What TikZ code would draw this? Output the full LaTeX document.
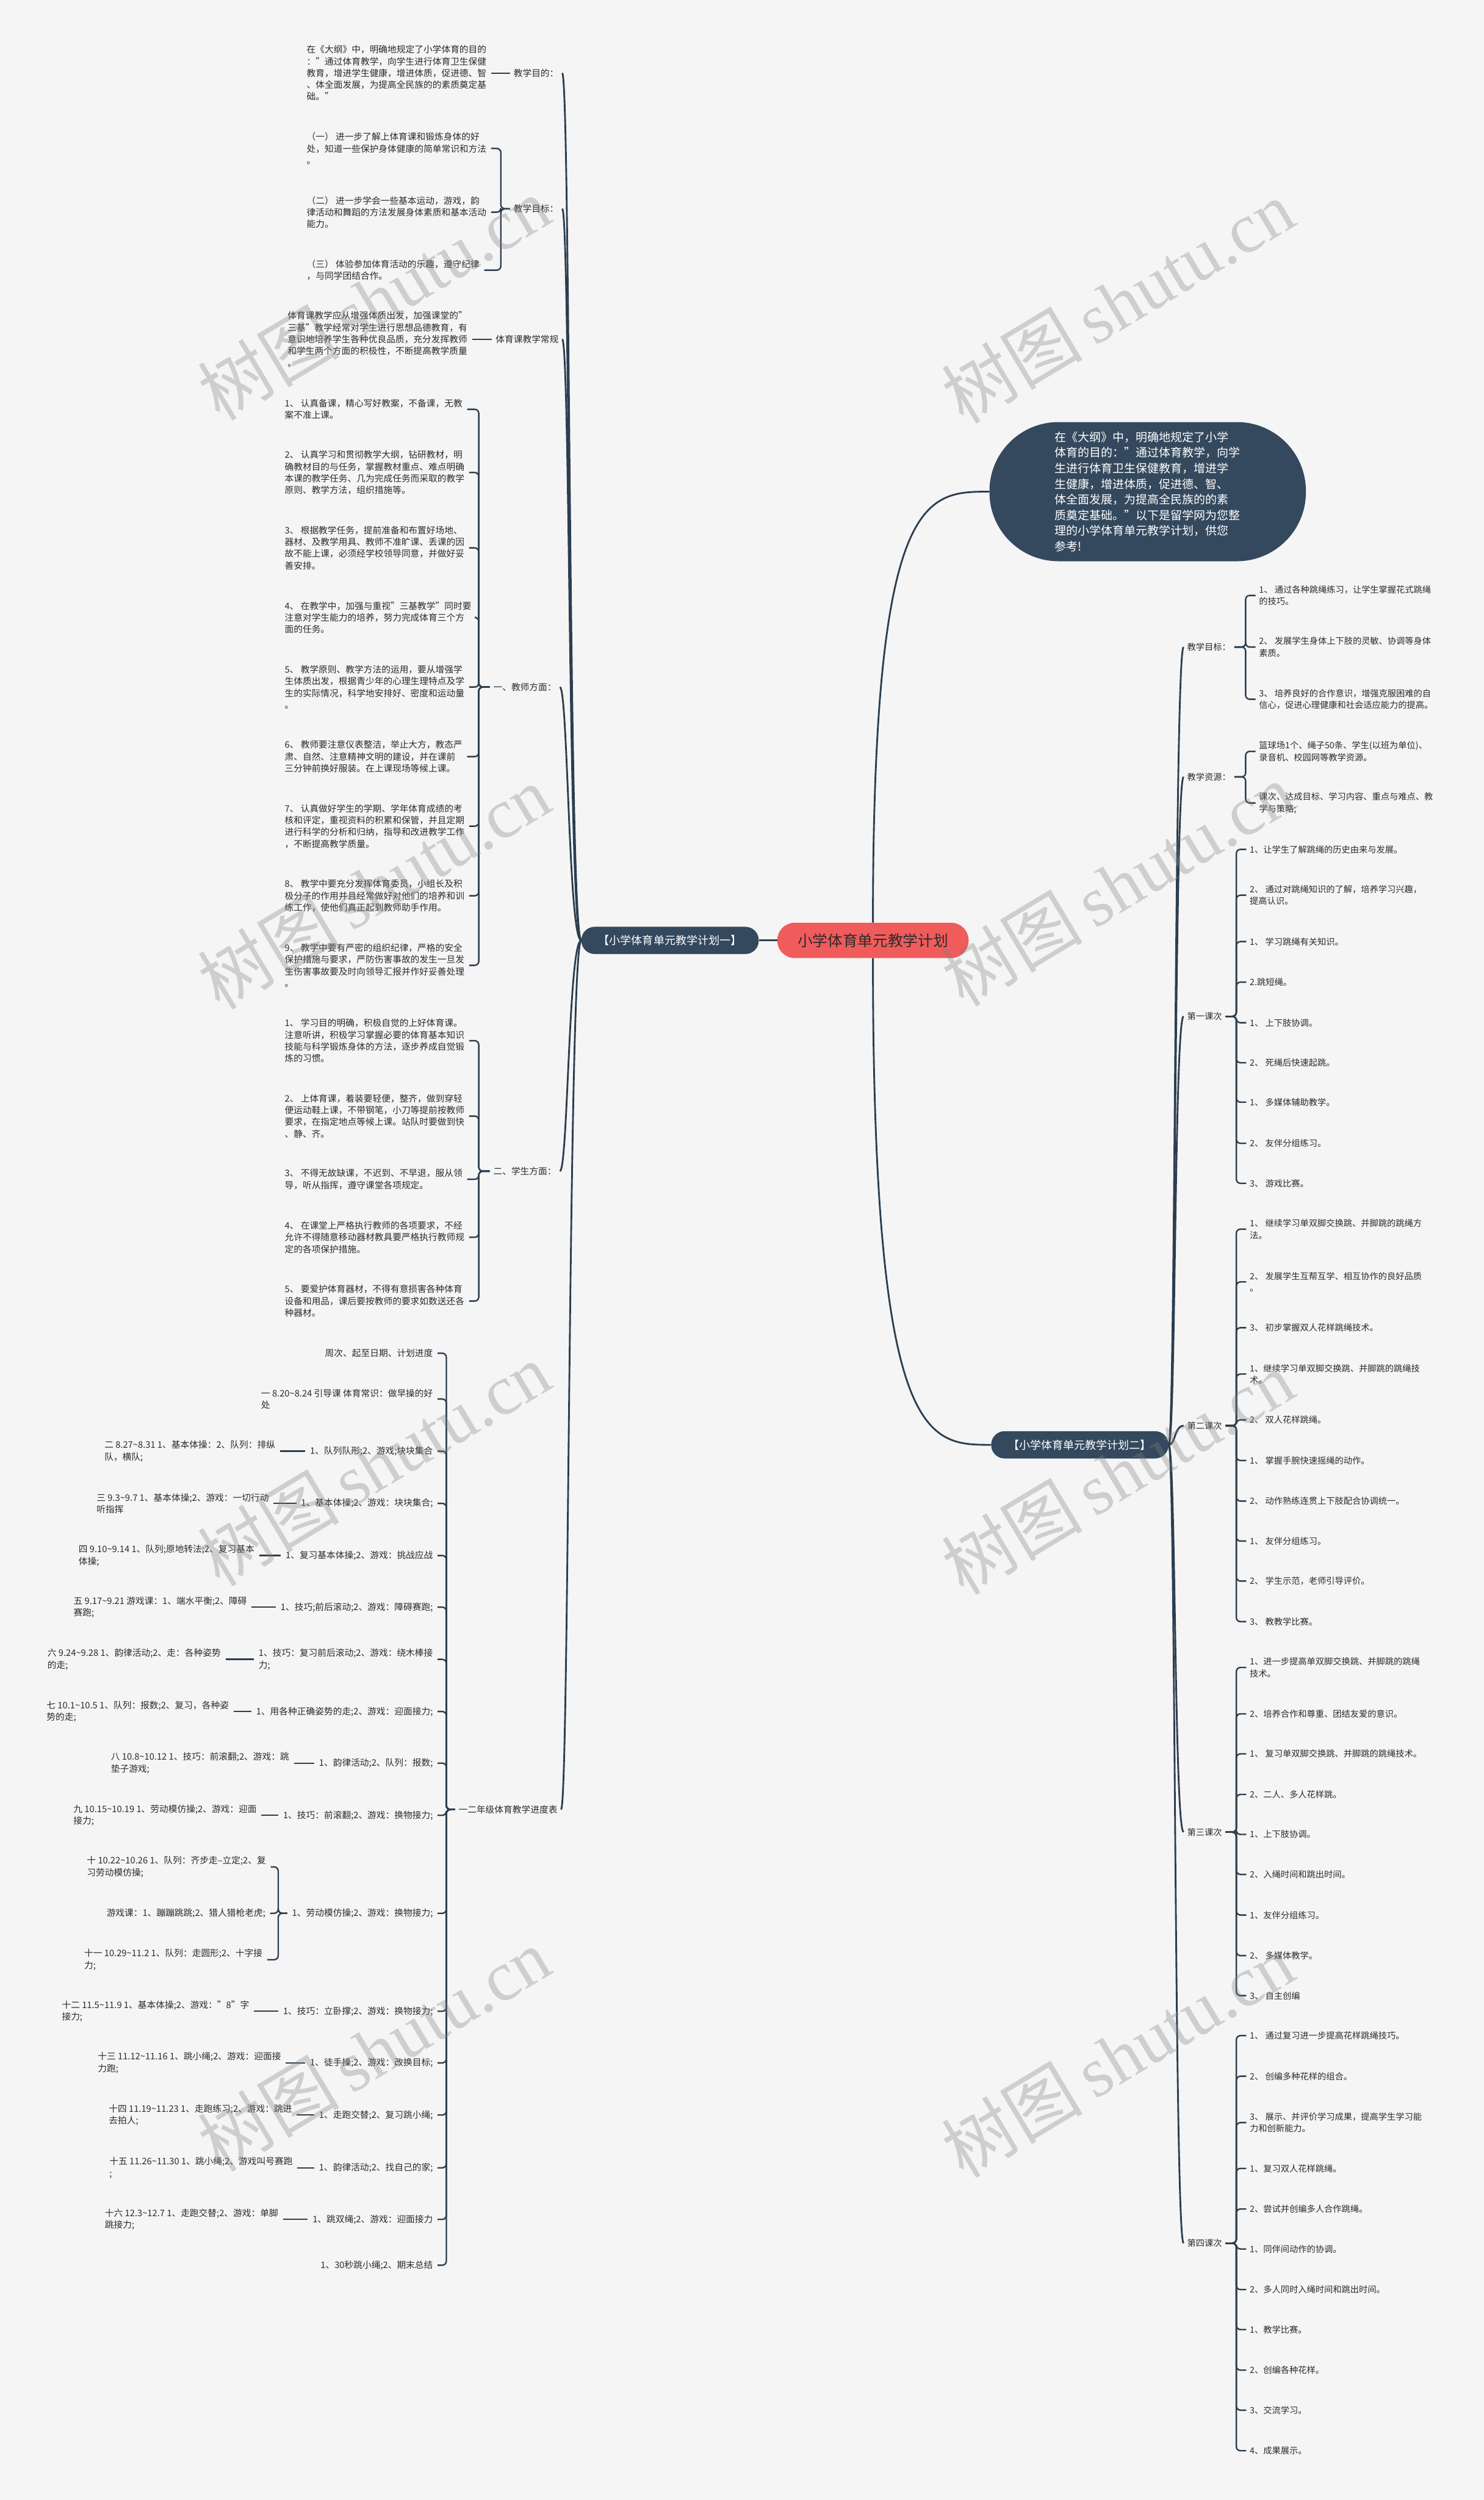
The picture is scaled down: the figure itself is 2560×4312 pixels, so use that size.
\documentclass[tikz,border=0pt]{standalone}
\usepackage{fontspec}
\setmainfont{Noto Sans CJK SC}
\newfontfamily\wmfont{Liberation Serif}
\definecolor{bg}{HTML}{F5F5F5}
\definecolor{ln}{HTML}{2C3E50}
\definecolor{dk}{HTML}{34495E}
\definecolor{rd}{HTML}{F05B5B}
\definecolor{tx}{HTML}{2B2B2B}
\newcommand\tld{\textasciitilde}
\newcommand\lfs{\fontsize{15.5}{20.3}\selectfont}
\newcommand\rfs{\fontsize{15}{20.5}\selectfont}
\begin{document}
\begin{tikzpicture}[x=1pt,y=-1pt,
  lt/.style={font=\lfs,text=tx,align=left,inner xsep=8,inner ysep=2,anchor=west},
  ltr/.style={lt,anchor=east},
  lab/.style={font=\lfs,text=tx,inner xsep=6,inner ysep=2,anchor=west},
  rt/.style={font=\rfs,text=tx,align=left,inner xsep=6,inner ysep=2,anchor=west},
  rlab/.style={font=\rfs,text=tx,inner xsep=6,inner ysep=2,anchor=west},
  sp/.style={draw=ln,line width=3},
  br/.style={draw=ln,line width=2.5,rounded corners=7},
  pl/.style={fill=dk,text=white,font=\fontsize{19}{22}\selectfont,rounded corners=23,minimum width=306,minimum height=47,inner sep=0},
  wmk/.style={text=gray,text opacity=0.33,rotate=31,inner sep=0}
]
\fill[bg] (0,0) rectangle (2560,4312);
\useasboundingbox (0,0) rectangle (2560,4312);

% ---------- central ----------
\node[fill=rd,text=tx,font=\fontsize{26}{30}\selectfont,rounded corners=30,minimum width=330,minimum height=61,inner sep=0] (root) at (1506,1622) {小学体育单元教学计划};
\node[pl] (p1) at (1156,1622) {【小学体育单元教学计划一】};
\node[pl] (p2) at (1863,2492) {【小学体育单元教学计划二】};
\node[fill=dk,text=white,font=\fontsize{20}{26.9}\selectfont,align=left,rounded corners=119,minimum width=546,minimum height=240,inner sep=0] (sum) at (1980,848) {在《大纲》中，明确地规定了小学\\体育的目的："通过体育教学，向学\\生进行体育卫生保健教育，增进学\\生健康，增进体质，促进德、智、\\体全面发展，为提高全民族的的素\\质奠定基础。"以下是留学网为您整\\理的小学体育单元教学计划，供您\\参考!};

\draw[sp] (root.west) -- (p1.east);
\draw[sp] (root.north) .. controls (root.north |- sum.west) and +(-110,0) .. (sum.west);
\draw[sp] (root.south) .. controls (root.south |- p2.west) and +(-110,0) .. (p2.west);

% ---------- left labels ----------
\node[lab] (L1) at (880,126) {教学目的：};
\node[lab] (L2) at (880,360) {教学目标：};
\node[lab] (L3) at (849,585) {体育课教学常规};
\node[lab] (L4) at (845,1185) {一、教师方面：};
\node[lab] (L5) at (845,2020) {二、学生方面：};
\node[lab] (L6) at (785,3121) {一二年级体育教学进度表};
\foreach \n in {L1,L2,L3,L4,L5,L6}
  \draw[sp] (p1.west) .. controls +(-22,0) and +(14,0) .. (\n.east);

\coordinate (b2) at (864,0);
\coordinate (b4) at (826,0);
\coordinate (b6) at (770,0);
\coordinate (b11) at (480,0);

% 教学目的
\node[lt] (C1) at (521,126) {在《大纲》中，明确地规定了小学体育的目的\\："通过体育教学，向学生进行体育卫生保健\\教育，增进学生健康，增进体质，促进德、智\\、体全面发展，为提高全民族的的素质奠定基\\础。"};
\draw[br] (C1.east) -- (L1.west);

% 教学目标
\node[lt] (C2a) at (521,256) {（一） 进一步了解上体育课和锻炼身体的好\\处，知道一些保护身体健康的简单常识和方法\\。};
\node[lt] (C2b) at (521,366) {（二） 进一步学会一些基本运动，游戏，韵\\律活动和舞蹈的方法发展身体素质和基本活动\\能力。};
\node[lt] (C2c) at (521,466) {（三） 体验参加体育活动的乐趣，遵守纪律\\，与同学团结合作。};
\foreach \c in {C2a,C2b,C2c}
  \draw[br] (L2.west) -- (L2.west -| b2) |- (\c.east);

% 常规
\node[lt] (C3) at (488,585) {体育课教学应从增强体质出发，加强课堂的"\\三基"教学经常对学生进行思想品德教育，有\\意识地培养学生各种优良品质，充分发挥教师\\和学生两个方面的积极性，不断提高教学质量\\。};
\draw[br] (C3.east) -- (L3.west);

% 教师方面
\node[lt] (T1) at (483,706) {1、 认真备课，精心写好教案，不备课，无教\\案不准上课。};
\node[lt] (T2) at (483,815) {2、 认真学习和贯彻教学大纲，钻研教材，明\\确教材目的与任务，掌握教材重点、难点明确\\本课的教学任务、几为完成任务而采取的教学\\原则、教学方法，组织措施等。};
\node[lt] (T3) at (483,945) {3、 根据教学任务，提前准备和布置好场地、\\器材、及教学用具、教师不准旷课、丢课的因\\故不能上课，必须经学校领导同意，并做好妥\\善安排。};
\node[lt] (T4) at (483,1065) {4、 在教学中，加强与重视"三基教学"同时要\\注意对学生能力的培养，努力完成体育三个方\\面的任务。};
\node[lt] (T5) at (483,1185) {5、 教学原则、教学方法的运用，要从增强学\\生体质出发，根据青少年的心理生理特点及学\\生的实际情况，科学地安排好、密度和运动量\\。};
\node[lt] (T6) at (483,1305) {6、 教师要注意仪表整洁，举止大方，教态严\\肃、自然、注意精神文明的建设，并在课前\\三分钟前换好服装。在上课现场等候上课。};
\node[lt] (T7) at (483,1425) {7、 认真做好学生的学期、学年体育成绩的考\\核和评定，重视资料的积累和保管，并且定期\\进行科学的分析和归纳，指导和改进教学工作\\，不断提高教学质量。};
\node[lt] (T8) at (483,1545) {8、 教学中要充分发挥体育委员，小组长及积\\极分子的作用并且经常做好对他们的培养和训\\练工作，使他们真正起到教师助手作用。};
\node[lt] (T9) at (483,1665) {9、 教学中要有严密的组织纪律，严格的安全\\保护措施与要求，严防伤害事故的发生一旦发\\生伤害事故要及时向领导汇报并作好妥善处理\\。};
\foreach \c in {T1,T2,T3,T4,T5,T6,T7,T8,T9}
  \draw[br] (L4.west) -- (L4.west -| b4) |- (\c.east);

% 学生方面
\node[lt] (S1) at (483,1795) {1、 学习目的明确，积极自觉的上好体育课。\\注意听讲，积极学习掌握必要的体育基本知识\\技能与科学锻炼身体的方法，逐步养成自觉锻\\炼的习惯。};
\node[lt] (S2) at (483,1925) {2、 上体育课，着装要轻便，整齐，做到穿轻\\便运动鞋上课，不带钢笔，小刀等提前按教师\\要求，在指定地点等候上课。站队时要做到快\\、静、齐。};
\node[lt] (S3) at (483,2034) {3、 不得无故缺课，不迟到、不早退，服从领\\导，听从指挥，遵守课堂各项规定。};
\node[lt] (S4) at (483,2134) {4、 在课堂上严格执行教师的各项要求，不经\\允许不得随意移动器材教具要严格执行教师规\\定的各项保护措施。};
\node[lt] (S5) at (483,2244) {5、 要爱护体育器材，不得有意损害各种体育\\设备和用品，课后要按教师的要求如数送还各\\种器材。};
\foreach \c in {S1,S2,S3,S4,S5}
  \draw[br] (L5.west) -- (L5.west -| b4) |- (\c.east);

% 进度表
\node[ltr] (P1) at (755,2334) {周次、起至日期、计划进度};
\node[ltr] (P2) at (755,2413) {一 8.20\tld{}8.24 引导课 体育常识：做早操的好\\处};
\node[ltr] (P3) at (755,2503) {1、队列队形;2、游戏;块块集合};
\node[ltr] (P4) at (755,2593) {1、基本体操;2、游戏：块块集合;};
\node[ltr] (P5) at (755,2683) {1、复习基本体操;2、游戏：挑战应战};
\node[ltr] (P6) at (755,2772) {1、技巧;前后滚动;2、游戏：障碍赛跑;};
\node[ltr] (P7) at (755,2862) {1、技巧：复习前后滚动;2、游戏：绕木棒接\\力;};
\node[ltr] (P8) at (755,2952) {1、用各种正确姿势的走;2、游戏：迎面接力;};
\node[ltr] (P9) at (755,3041) {1、韵律活动;2、队列：报数;};
\node[ltr] (P10) at (755,3131) {1、技巧：前滚翻;2、游戏：换物接力;};
\node[ltr] (P11) at (755,3300) {1、劳动模仿操;2、游戏：换物接力;};
\node[ltr] (P12) at (755,3469) {1、技巧：立卧撑;2、游戏：换物接力;};
\node[ltr] (P13) at (755,3558) {1、徒手操;2、游戏：改换目标;};
\node[ltr] (P14) at (755,3648) {1、走跑交替;2、复习跳小绳;};
\node[ltr] (P15) at (755,3739) {1、韵律活动;2、找自己的家;};
\node[ltr] (P16) at (755,3828) {1、跳双绳;2、游戏：迎面接力};
\node[ltr] (P17) at (755,3907) {1、30秒跳小绳;2、期末总结};
\foreach \i in {1,...,17}
  \draw[br] (L6.west) -- (L6.west -| b6) |- (P\i.east);

\node[ltr] (Q3) at (483,2503) {二 8.27\tld{}8.31 1、基本体操：2、队列：排纵\\队，横队;};
\node[ltr] (Q4) at (472,2593) {三 9.3\tld{}9.7 1、基本体操;2、游戏：一切行动\\听指挥};
\node[ltr] (Q5) at (447,2683) {四 9.10\tld{}9.14 1、队列;原地转法;2、复习基本\\体操;};
\node[ltr] (Q6) at (434,2772) {五 9.17\tld{}9.21 游戏课：1、端水平衡;2、障碍\\赛跑;};
\node[ltr] (Q7) at (389,2862) {六 9.24\tld{}9.28 1、韵律活动;2、走：各种姿势\\的走;};
\node[ltr] (Q8) at (403,2952) {七 10.1\tld{}10.5 1、队列：报数;2、复习，各种姿\\势的走;};
\node[ltr] (Q9) at (507,3041) {八 10.8\tld{}10.12 1、技巧：前滚翻;2、游戏：跳\\垫子游戏;};
\node[ltr] (Q10) at (451,3131) {九 10.15\tld{}10.19 1、劳动模仿操;2、游戏：迎面\\接力;};
\node[ltr] (Q11a) at (467,3220) {十 10.22\tld{}10.26 1、队列：齐步走–立定;2、复\\习劳动模仿操;};
\node[ltr] (Q11b) at (466,3300) {游戏课：1、蹦蹦跳跳;2、猎人猎枪老虎;};
\node[ltr] (Q11c) at (461,3380) {十一 10.29\tld{}11.2 1、队列：走圆形;2、十字接\\力;};
\node[ltr] (Q12) at (438,3469) {十二 11.5\tld{}11.9 1、基本体操;2、游戏："8"字\\接力;};
\node[ltr] (Q13) at (493,3558) {十三 11.12\tld{}11.16 1、跳小绳;2、游戏：迎面接\\力跑;};
\node[ltr] (Q14) at (512,3648) {十四 11.19\tld{}11.23 1、走跑练习;2、游戏：跳进\\去拍人;};
\node[ltr] (Q15) at (513,3739) {十五 11.26\tld{}11.30 1、跳小绳;2、游戏叫号赛跑\\;};
\node[ltr] (Q16) at (488,3828) {十六 12.3\tld{}12.7 1、走跑交替;2、游戏：单脚\\跳接力;};
\foreach \i in {3,4,5,6,7,8,9,10,12,13,14,15,16}
  \draw[br] (Q\i.east) -- (P\i.west);
\foreach \c in {Q11a,Q11b,Q11c}
  \draw[br] (P11.west) -- (P11.west -| b11) |- (\c.east);

% ---------- right side ----------
\node[rlab] (R1) at (2042,1116) {教学目标：};
\node[rlab] (R2) at (2042,1340) {教学资源：};
\node[rlab] (R3) at (2042,1753) {第一课次};
\node[rlab] (R4) at (2042,2459) {第二课次};
\node[rlab] (R5) at (2042,3160) {第三课次};
\node[rlab] (R6) at (2042,3869) {第四课次};
\foreach \n in {R1,R2,R3,R4,R5,R6}
  \draw[sp] (p2.east) .. controls +(12,0) and +(-16,0) .. (\n.west);

\coordinate (c1) at (2149,0);
\coordinate (c3) at (2133,0);

\node[rt] (R1a) at (2166,1027) {1、 通过各种跳绳练习，让学生掌握花式跳绳\\的技巧。};
\node[rt] (R1b) at (2166,1116) {2、 发展学生身体上下肢的灵敏、协调等身体\\素质。};
\node[rt] (R1c) at (2166,1206) {3、 培养良好的合作意识，增强克服困难的自\\信心，促进心理健康和社会适应能力的提高。};
\foreach \c in {R1a,R1b,R1c}
  \draw[br] (R1.east) -- (R1.east -| c1) |- (\c.west);

\node[rt] (R2a) at (2166,1296) {篮球场1个、绳子50条、学生(以班为单位)、\\录音机、校园网等教学资源。};
\node[rt] (R2b) at (2166,1385) {课次、达成目标、学习内容、重点与难点、教\\学与策略;};
\foreach \c in {R2a,R2b}
  \draw[br] (R2.east) -- (R2.east -| c1) |- (\c.west);

\node[rt] (R3a) at (2150,1465) {1、让学生了解跳绳的历史由来与发展。};
\node[rt] (R3b) at (2150,1544) {2、 通过对跳绳知识的了解，培养学习兴趣，\\提高认识。};
\node[rt] (R3c) at (2150,1624) {1、 学习跳绳有关知识。};
\node[rt] (R3d) at (2150,1694) {2.跳短绳。};
\node[rt] (R3e) at (2150,1764) {1、 上下肢协调。};
\node[rt] (R3f) at (2150,1833) {2、 死绳后快速起跳。};
\node[rt] (R3g) at (2150,1901) {1、 多媒体辅助教学。};
\node[rt] (R3h) at (2150,1972) {2、 友伴分组练习。};
\node[rt] (R3i) at (2150,2041) {3、 游戏比赛。};
\foreach \c in {R3a,R3b,R3c,R3d,R3e,R3f,R3g,R3h,R3i}
  \draw[br] (R3.east) -- (R3.east -| c3) |- (\c.west);

\node[rt] (R4a) at (2150,2120) {1、 继续学习单双脚交换跳、并脚跳的跳绳方\\法。};
\node[rt] (R4b) at (2150,2211) {2、 发展学生互帮互学、相互协作的良好品质\\。};
\node[rt] (R4c) at (2150,2290) {3、 初步掌握双人花样跳绳技术。};
\node[rt] (R4d) at (2150,2370) {1、继续学习单双脚交换跳、并脚跳的跳绳技\\术。};
\node[rt] (R4e) at (2150,2449) {2、 双人花样跳绳。};
\node[rt] (R4f) at (2150,2519) {1、 掌握手腕快速摇绳的动作。};
\node[rt] (R4g) at (2150,2589) {2、 动作熟练连贯上下肢配合协调统一。};
\node[rt] (R4h) at (2150,2658) {1、 友伴分组练习。};
\node[rt] (R4i) at (2150,2727) {2、 学生示范，老师引导评价。};
\node[rt] (R4j) at (2150,2797) {3、 教教学比赛。};
\foreach \c in {R4a,R4b,R4c,R4d,R4e,R4f,R4g,R4h,R4i,R4j}
  \draw[br] (R4.east) -- (R4.east -| c3) |- (\c.west);

\node[rt] (R5a) at (2150,2876) {1、进一步提高单双脚交换跳、并脚跳的跳绳\\技术。};
\node[rt] (R5b) at (2150,2956) {2、培养合作和尊重、团结友爱的意识。};
\node[rt] (R5c) at (2150,3025) {1、 复习单双脚交换跳、并脚跳的跳绳技术。};
\node[rt] (R5d) at (2150,3095) {2、二人、多人花样跳。};
\node[rt] (R5e) at (2150,3164) {1、上下肢协调。};
\node[rt] (R5f) at (2150,3233) {2、入绳时间和跳出时间。};
\node[rt] (R5g) at (2150,3303) {1、友伴分组练习。};
\node[rt] (R5h) at (2150,3373) {2、 多媒体教学。};
\node[rt] (R5i) at (2150,3442) {3、 自主创编};
\foreach \c in {R5a,R5b,R5c,R5d,R5e,R5f,R5g,R5h,R5i}
  \draw[br] (R5.east) -- (R5.east -| c3) |- (\c.west);

\node[rt] (R6a) at (2150,3511) {1、 通过复习进一步提高花样跳绳技巧。};
\node[rt] (R6b) at (2150,3581) {2、 创编多种花样的组合。};
\node[rt] (R6c) at (2150,3661) {3、 展示、并评价学习成果，提高学生学习能\\力和创新能力。};
\node[rt] (R6d) at (2150,3740) {1、复习双人花样跳绳。};
\node[rt] (R6e) at (2150,3810) {2、尝试并创编多人合作跳绳。};
\node[rt] (R6f) at (2150,3879) {1、同伴间动作的协调。};
\node[rt] (R6g) at (2150,3949) {2、多人同时入绳时间和跳出时间。};
\node[rt] (R6h) at (2150,4018) {1、教学比赛。};
\node[rt] (R6i) at (2150,4088) {2、创编各种花样。};
\node[rt] (R6j) at (2150,4157) {3、交流学习。};
\node[rt] (R6k) at (2150,4227) {4、成果展示。};
\foreach \c in {R6a,R6b,R6c,R6d,R6e,R6f,R6g,R6h,R6i,R6j,R6k}
  \draw[br] (R6.east) -- (R6.east -| c3) |- (\c.west);

% ---------- watermarks ----------
\foreach \x/\y in {645/515,1928/520,645/1530,1928/1525,645/2525,1928/2540,645/3535,1928/3545}
  \node[wmk] at (\x,\y) {\fontsize{122}{122}\selectfont 树图\,{\wmfont shutu.cn}};
\end{tikzpicture}
\end{document}
